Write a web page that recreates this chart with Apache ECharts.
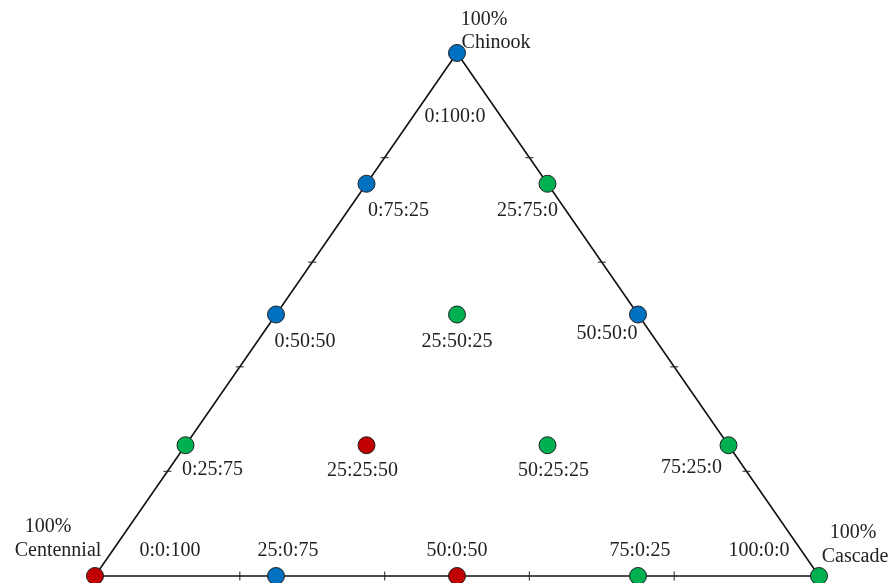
<!DOCTYPE html>
<html>
<head>
<meta charset="utf-8">
<script src="https://cdn.jsdelivr.net/npm/echarts@6/dist/echarts.min.js"></script>
<style>html,body{margin:0;padding:0;background:#fff;}#c{width:894px;height:583px;}</style>
</head>
<body>
<div id="c"></div>
<script>
// Blend compositions as Cascade : Chinook : Centennial (%)
var blendNames = ["0:100:0","0:75:25","25:75:0","0:50:50","25:50:25","50:50:0","0:25:75","25:25:50","50:25:25","75:25:0","0:0:100","25:0:75","50:0:50","75:0:25","100:0:0"];
var cascade    = [0, 0, 25, 0, 25, 50, 0, 25, 50, 75, 0, 25, 50, 75, 100];
var chinook    = [100, 75, 75, 50, 50, 50, 25, 25, 25, 25, 0, 0, 0, 0, 0];
var centennial = [0, 25, 0, 50, 25, 0, 75, 50, 25, 0, 100, 75, 50, 25, 0];
var group      = ["blue","blue","green","blue","green","blue","green","red","green","green","red","blue","red","green","green"];
var tickFractions = [0.2, 0.4, 0.6, 0.8];
var vertexNames = ["Chinook", "Centennial", "Cascade"];

// styling (not data)
var groupColors = {blue: "#0070c0", green: "#00b050", red: "#c00000"};
var labelOffsets = [[-2,64],[32,27],[-20,27],[29,27],[0,27],[-31,19],[27,24],[-4,25],[6,25],[-37,22],[75,-25],[12,-25],[0,-25],[2,-25],[-60,-25]];
var vertexLabelOffsets = {
  Chinook: [[27,-33],[39,-10]],
  Centennial: [[-47,-49],[-37,-25]],
  Cascade: [[34,-43],[36,-19]]
};

function toXY(cas, chi) { return [cas/100 + 0.5*chi/100, chi/100]; }
var vertexXY = {Chinook: toXY(0,100), Centennial: toXY(0,0), Cascade: toXY(100,0)};

var font = "'Liberation Serif','Times New Roman',serif";

var pointData = blendNames.map(function(n, i){
  var xy = toXY(cascade[i], chinook[i]);
  return {
    name: n, value: xy,
    itemStyle: {color: groupColors[group[i]]},
    label: {offset: labelOffsets[i]}
  };
});

var edge = [vertexXY.Centennial, vertexXY.Cascade, vertexXY.Chinook, vertexXY.Centennial];
var bottomTicks = tickFractions.map(function(f){ return [f, 0]; });
var sideTicks = [];
tickFractions.forEach(function(f){ sideTicks.push([0.5*f, f]); sideTicks.push([1-0.5*f, f]); });

var chart = echarts.init(document.getElementById('c'));
chart.setOption({
  animation: false,
  backgroundColor: '#fff',
  grid: {left: 95, right: 75, top: 53, bottom: 7},
  xAxis: {type: 'value', min: 0, max: 1, show: false},
  yAxis: {type: 'value', min: 0, max: 1, show: false},
  series: [
    {type: 'line', data: edge, symbol: 'none', clip: false, silent: true,
     lineStyle: {color: '#111', width: 1.6}, z: 1},
    {type: 'scatter', data: bottomTicks, symbol: 'rect', symbolSize: [1.3, 9], clip: false,
     itemStyle: {color: '#222'}, z: 2},
    {type: 'scatter', data: sideTicks, symbol: 'rect', symbolSize: [8, 1.3], clip: false,
     itemStyle: {color: '#222'}, z: 2},
    {type: 'scatter', data: pointData, symbol: 'circle', symbolSize: 17, clip: false,
     itemStyle: {borderColor: '#222', borderWidth: 1, opacity: 1}, z: 5,
     label: {show: true, position: 'inside', formatter: '{b}', color: '#222',
             fontFamily: font, fontSize: 20}}
  ]
});

// vertex labels anchored to the vertices through the chart's own scales
var graphics = [];
vertexNames.forEach(function(v){
  var p = chart.convertToPixel({gridIndex: 0}, vertexXY[v]);
  ["100%", v].forEach(function(t, k){
    var o = vertexLabelOffsets[v][k];
    graphics.push({type: 'text', x: p[0] + o[0], y: p[1] + o[1], z: 10,
      style: {text: t, fill: '#222', font: '20px ' + font, align: 'center', verticalAlign: 'middle'}});
  });
});
chart.setOption({graphic: graphics});
</script>
</body>
</html>
